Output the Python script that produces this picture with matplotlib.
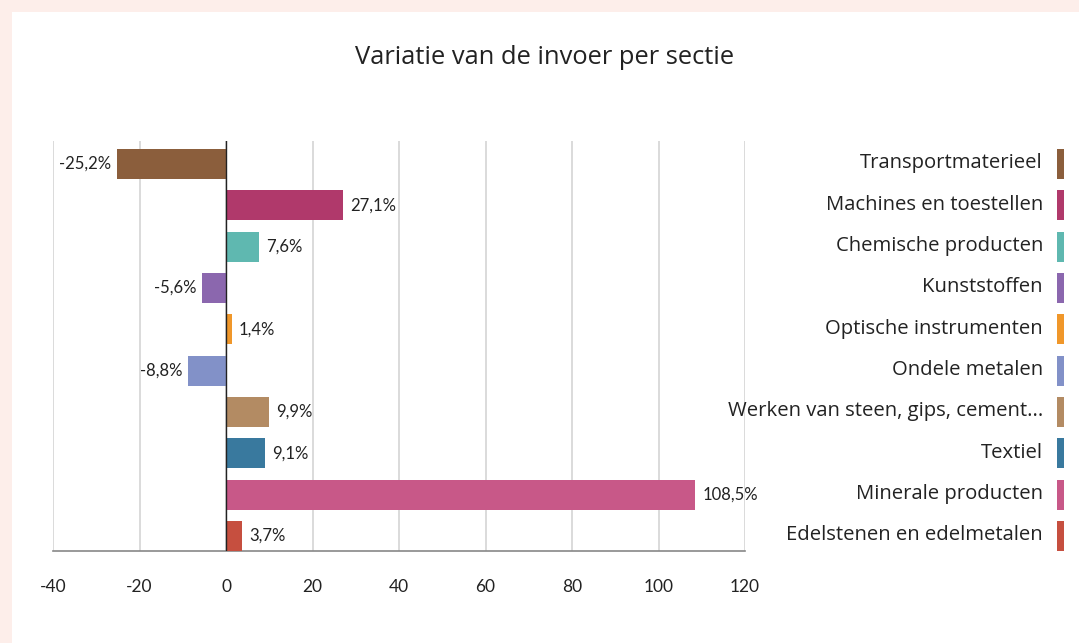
import matplotlib
matplotlib.use("Agg")
import matplotlib.pyplot as plt
from matplotlib.patches import Rectangle

categories = ["Transportmaterieel", "Machines en toestellen", "Chemische producten",
              "Kunststoffen", "Optische instrumenten", "Ondele metalen",
              "Werken van steen, gips, cement...", "Textiel", "Minerale producten",
              "Edelstenen en edelmetalen"]
values = [-25.2, 27.1, 7.6, -5.6, 1.4, -8.8, 9.9, 9.1, 108.5, 3.7]
labels = ["-25,2%", "27,1%", "7,6%", "-5,6%", "1,4%", "-8,8%", "9,9%", "9,1%", "108,5%", "3,7%"]
colors = ["#8B5E3C", "#B0396B", "#5FB8B0", "#8B67AE", "#F0972A", "#8291C8",
          "#B38B63", "#39799E", "#C85888", "#C64F3F"]
xticks = [-40, -20, 0, 20, 40, 60, 80, 100, 120]

W, H = 1079, 643
fig = plt.figure(figsize=(W/100, H/100), dpi=100)
fig.patch.set_facecolor("#FDEEEA")
fig.patches.append(Rectangle((12/W, 0), 1 - 12/W, 1 - 12/H, transform=fig.transFigure,
                             facecolor="white", edgecolor="none", zorder=-5))

ax = fig.add_axes([53/W, 92/H, 692/W, 410/H])
ax.set_facecolor("none")
ypos = list(range(len(categories)))
ax.barh(ypos, values, height=0.726, color=colors, zorder=3)
ax.set_xlim(-40, 120)
ax.set_ylim(9.363, -0.556)
ax.set_xticks(xticks)
ax.set_xticklabels([str(t) for t in xticks], fontsize=12.5, color="#222222", family="Lato")
ax.tick_params(axis="x", length=0, pad=20)
ax.set_yticks([])
ax.grid(axis="x", color="#d4d4d4", linewidth=1.2, zorder=1)
for s in ["top", "right", "left"]:
    ax.spines[s].set_visible(False)
ax.spines["bottom"].set_color("#888888")
ax.spines["bottom"].set_linewidth(1.2)
ax.axvline(0, color="#222222", linewidth=1, zorder=4)

for i, (v, lab) in enumerate(zip(values, labels)):
    if v >= 0:
        ax.annotate(lab, (v, i), xytext=(5, 0), textcoords="offset points",
                    ha="left", va="center", fontsize=12, color="#222222", family="Lato")
    else:
        ax.annotate(lab, (v, i), xytext=(-4, 0), textcoords="offset points",
                    ha="right", va="center", fontsize=12, color="#222222", family="Lato")

# right-side category labels with swatches
for i, (c, col) in enumerate(zip(categories, colors)):
    ax.annotate(c, (1, i), xycoords=("axes fraction", "data"),
                xytext=((1043 - 745) * 0.72, 0.5), textcoords="offset points",
                ha="right", va="center", fontsize=14.6, color="#222222", family="Open Sans")
    ax.add_patch(Rectangle((1 + (1057 - 745) / 692, i - 0.363), 7 / 692, 0.726,
                           transform=ax.get_yaxis_transform(), facecolor=col,
                           edgecolor="none", clip_on=False))

fig.text(545/W, 1 - 57/H, "Variatie van de invoer per sectie", ha="center", va="center",
         fontsize=18.4, color="#222222", family="Open Sans")

fig.savefig("out.png", dpi=100, facecolor=fig.get_facecolor())
